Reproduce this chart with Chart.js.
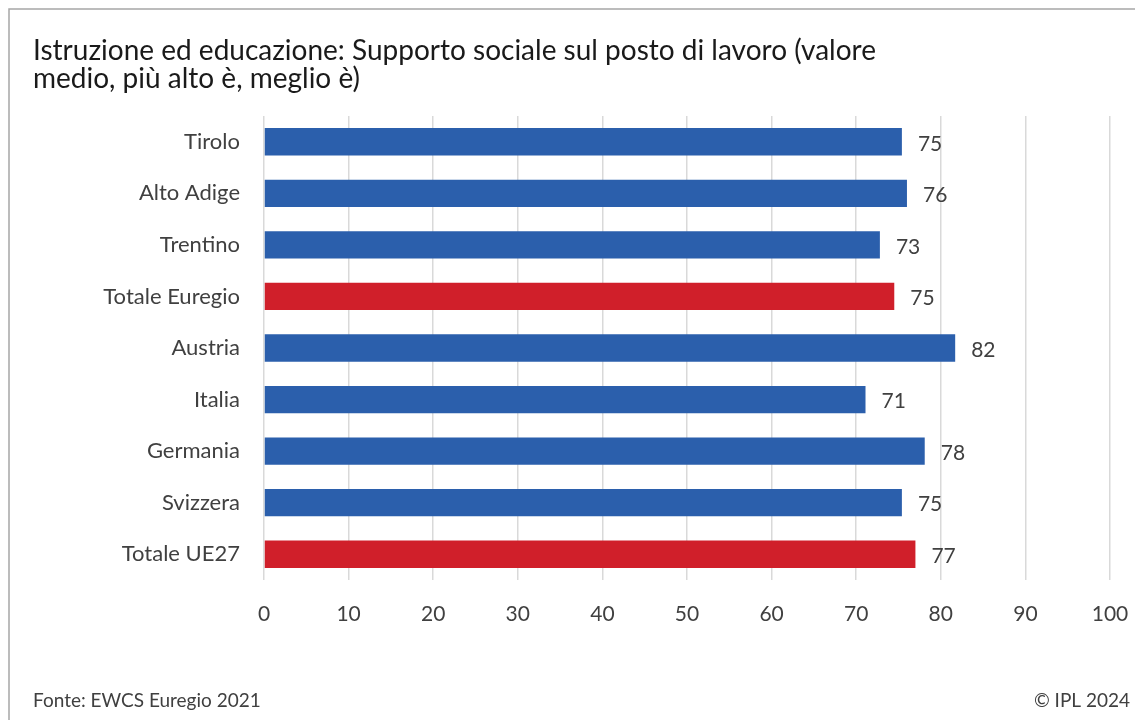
<!DOCTYPE html>
<html>
<head>
<meta charset="utf-8">
<script src="https://cdn.jsdelivr.net/npm/chart.js@4"></script>
<style>
  html, body { margin: 0; padding: 0; background: #fff; }
  #chart { display: block; }
</style>
</head>
<body>
<canvas id="chart" width="1135" height="720"></canvas>
<script>
const categories = ['Tirolo', 'Alto Adige', 'Trentino', 'Totale Euregio', 'Austria', 'Italia', 'Germania', 'Svizzera', 'Totale UE27'];
const values = [75.4, 76.0, 72.8, 74.5, 81.7, 71.1, 78.1, 75.4, 77.0];
const isTotal = [false, false, false, true, false, false, false, false, true];
const xTicks = [0, 10, 20, 30, 40, 50, 60, 70, 80, 90, 100];
const titleLines = ['Istruzione ed educazione: Supporto sociale sul posto di lavoro (valore', 'medio, più alto è, meglio è)'];
const sourceText = 'Fonte: EWCS Euregio 2021';
const copyrightText = '© IPL 2024';

const FONT = 'Lato, "Noto Sans", sans-serif';
const BLUE = '#2b5fac';
const RED = '#d01f2a';
const TEXT = '#404040';

// frame + footer texts
const framePlugin = {
  id: 'frame',
  beforeDraw(chart) {
    const ctx = chart.ctx;
    ctx.save();
    ctx.fillStyle = '#fff';
    ctx.fillRect(0, 0, chart.width, chart.height);
    ctx.strokeStyle = '#a6a6a6';
    ctx.lineWidth = 1.5;
    ctx.beginPath();
    ctx.moveTo(9, chart.height);
    ctx.lineTo(9, 9);
    ctx.lineTo(chart.width, 9);
    ctx.stroke();
    ctx.restore();
  },
  afterDraw(chart) {
    const ctx = chart.ctx;
    ctx.save();
    ctx.font = '400 19px ' + FONT;
    ctx.fillStyle = TEXT;
    ctx.textBaseline = 'middle';
    ctx.textAlign = 'left';
    ctx.fillText(sourceText, 33, 701);
    ctx.textAlign = 'right';
    ctx.fillText(copyrightText, 1130, 701);
    ctx.restore();
  }
};

// value labels after bar ends
const valueLabels = {
  id: 'valueLabels',
  afterDatasetsDraw(chart) {
    const ctx = chart.ctx;
    const meta = chart.getDatasetMeta(0);
    ctx.save();
    ctx.font = '400 21px ' + FONT;
    ctx.fillStyle = TEXT;
    ctx.textAlign = 'left';
    ctx.textBaseline = 'middle';
    meta.data.forEach((bar, i) => {
      ctx.fillText(Math.round(values[i]).toString(), bar.x + 16, bar.y + 2);
    });
    ctx.restore();
  }
};

new Chart(document.getElementById('chart'), {
  type: 'bar',
  data: {
    labels: categories,
    datasets: [{
      data: values,
      backgroundColor: isTotal.map(t => t ? RED : BLUE),
      categoryPercentage: 1,
      barPercentage: 0.53
    }]
  },
  options: {
    indexAxis: 'y',
    responsive: false,
    animation: false,
    layout: { padding: { left: 33, right: 25, top: 0, bottom: 80 } },
    plugins: {
      legend: { display: false },
      tooltip: { enabled: false },
      title: {
        display: true,
        text: titleLines,
        align: 'start',
        color: '#1a1a1a',
        font: { family: FONT, size: 28, weight: '400', lineHeight: 1.0 },
        padding: { top: 37, bottom: 23 }
      }
    },
    scales: {
      x: {
        min: 0,
        max: 100,
        afterBuildTicks(scale) { scale.ticks = xTicks.map(v => ({ value: v })); },
        afterFit(scale) {
          scale.height = 60;
          scale.paddingLeft = 0;
          scale.paddingRight = 0;
        },
        grid: { color: '#d9d9d9', lineWidth: 1.5, drawTicks: false },
        border: { display: false },
        ticks: { color: TEXT, padding: 22, font: { family: FONT, size: 21, weight: '400' } }
      },
      y: {
        afterFit(scale) { scale.width = 231; },
        grid: { display: false, drawTicks: false },
        border: { display: false },
        ticks: { color: TEXT, padding: 24, font: { family: FONT, size: 22, weight: '400' } }
      }
    }
  },
  plugins: [framePlugin, valueLabels]
});
</script>
</body>
</html>
